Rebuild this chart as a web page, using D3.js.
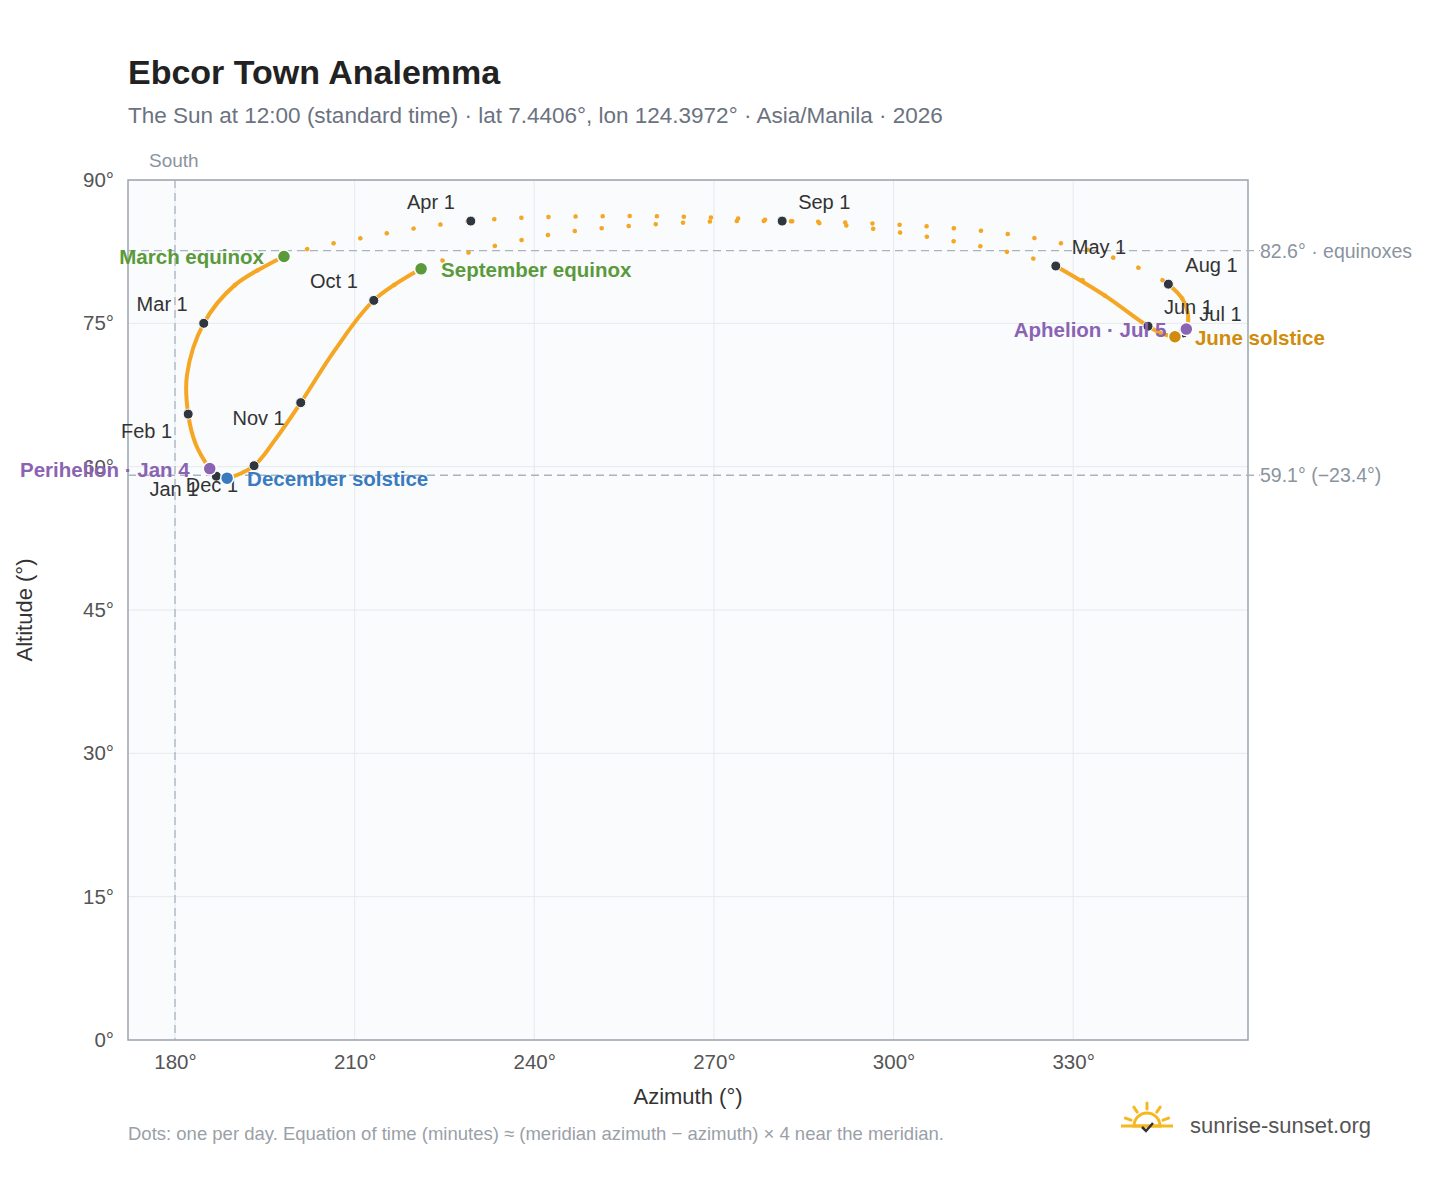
<!DOCTYPE html>
<html><head><meta charset="utf-8">
<script src="https://cdnjs.cloudflare.com/ajax/libs/d3/7.8.5/d3.min.js"></script>
<style>body{margin:0;background:#fff;font-family:"Liberation Sans",Arial,sans-serif}</style>
</head><body><div id="chart"></div>
<script>
// samples: date, azimuth, altitude
const dates = ["Jan 1","Jan 4","Jan 15","Feb 1","Feb 15","Mar 1","Mar 10","Mar 20","Mar 26","Apr 1","Apr 8","Apr 15","Apr 22","May 1","May 15","Jun 1","Jun 10","Jun 21","Jul 1","Jul 5","Jul 12","Jul 20","Aug 1","Aug 8","Aug 15","Aug 22","Sep 1","Sep 8","Sep 15","Sep 22","Oct 1","Oct 15","Nov 1","Nov 15","Dec 1","Dec 21","Dec 31"];
const azimuth = [186.9,185.8,183.5,182.2,182.0,184.8,190.0,198.2,212.6,229.4,250.2,272.7,297.8,327.1,335.3,342.5,345.0,347.0,348.4,348.9,349.2,348.2,345.9,338.7,327.8,312.8,281.4,261.0,241.0,221.1,213.2,206.7,201.0,196.7,193.2,188.7,187.1];
const altitude = [59.0,59.8,62.3,65.5,69.6,75.0,79.0,82.0,84.1,85.7,86.2,86.0,84.8,81.0,77.9,74.7,73.9,73.6,74.0,74.4,75.8,77.6,79.1,81.4,83.4,84.8,85.7,85.4,84.1,80.7,77.4,72.2,66.7,62.8,60.1,58.8,58.9];
const monthLabels = ["Jan 1","Feb 1","Mar 1","Apr 1","May 1","Jun 1","Jul 1","Aug 1","Sep 1","Oct 1","Nov 1","Dec 1"];
const events = [
  {name:"March equinox", date:"Mar 20", color:"#5a9a3a", side:"left"},
  {name:"September equinox", date:"Sep 22", color:"#5a9a3a", side:"right"},
  {name:"June solstice", date:"Jun 21", color:"#d08c0c", side:"right"},
  {name:"December solstice", date:"Dec 21", color:"#3a7bc0", side:"right"},
  {name:"Perihelion · Jan 4", date:"Jan 4", color:"#8b63b3", side:"left"},
  {name:"Aphelion · Jul 5", date:"Jul 5", color:"#8b63b3", side:"left"}
];
const xTicks = [180,210,240,270,300,330];
const yTicks = [0,15,30,45,60,75,90];

const W=1448,H=1188, L=128,R=1248,T=180,B=1040;
const svg=d3.select("#chart").append("svg").attr("width",W).attr("height",H);
const x=d3.scaleLinear().domain([172.15,359.2]).range([L,R]);
const y=d3.scaleLinear().domain([0,90]).range([B,T]);
const pts=dates.map((d,i)=>({date:d,az:azimuth[i],alt:altitude[i]}));
const byDate=d=>pts.find(p=>p.date===d);

svg.append("text").attr("x",128).attr("y",84).attr("font-size",34).attr("font-weight","bold").attr("fill","#222").text("Ebcor Town Analemma");
svg.append("text").attr("x",128).attr("y",123).attr("font-size",22.5).attr("fill","#6b7280").text("The Sun at 12:00 (standard time) · lat 7.4406°, lon 124.3972° · Asia/Manila · 2026");

svg.append("rect").attr("x",L).attr("y",T).attr("width",R-L).attr("height",B-T).attr("fill","#f9fbfd");
const g=svg.append("g");
g.selectAll(".gx").data(xTicks).join("line").attr("x1",d=>x(d)).attr("x2",d=>x(d)).attr("y1",T).attr("y2",B).attr("stroke","#e6eaee");
g.selectAll(".gy").data(yTicks).join("line").attr("y1",d=>y(d)).attr("y2",d=>y(d)).attr("x1",L).attr("x2",R).attr("stroke","#e6eaee");
svg.append("rect").attr("x",L).attr("y",T).attr("width",R-L).attr("height",B-T).attr("fill","none").attr("stroke","#9aa5b1").attr("stroke-width",1.5);

const xa=svg.append("g").attr("transform",`translate(0,${B})`).call(d3.axisBottom(x).tickValues(xTicks).tickFormat(d=>d+"°").tickSize(0).tickPadding(14));
const ya=svg.append("g").attr("transform",`translate(${L},0)`).call(d3.axisLeft(y).tickValues(yTicks).tickFormat(d=>d+"°").tickSize(0).tickPadding(14));
[xa,ya].forEach(a=>{a.select(".domain").remove();a.selectAll("text").attr("font-size",20.5).attr("fill","#555").attr("font-family","Liberation Sans, Arial");});
svg.append("text").attr("x",(L+R)/2).attr("y",1104).attr("text-anchor","middle").attr("font-size",22).attr("fill","#333").text("Azimuth (°)");
svg.append("text").attr("transform","translate(32,610) rotate(-90)").attr("text-anchor","middle").attr("font-size",22).attr("fill","#333").text("Altitude (°)");

// reference lines
svg.append("line").attr("x1",x(180)).attr("x2",x(180)).attr("y1",T).attr("y2",B).attr("stroke","#a8b4c0").attr("stroke-dasharray","8 5").attr("stroke-width",1.3);
svg.append("text").attr("x",x(180)-26).attr("y",167).attr("font-size",19).attr("fill","#8a94a0").text("South");
[[82.6,"82.6° · equinoxes"],[59.1,"59.1° (−23.4°)"]].forEach(([v,t])=>{
  svg.append("line").attr("x1",L).attr("x2",R+12).attr("y1",y(v)).attr("y2",y(v)).attr("stroke","#a8b4c0").attr("stroke-dasharray","8 5").attr("stroke-width",1.3);
  svg.append("text").attr("x",R+12).attr("y",y(v)+7).attr("font-size",19.5).attr("fill","#8a94a0").text(t);
});

// analemma
const line=d3.line().x(p=>x(p.az)).y(p=>y(p.alt)).curve(d3.curveCatmullRom);
const idx=d=>dates.indexOf(d);
const seg=(a,b)=>pts.slice(idx(a),idx(b)+1);
const solid=[seg("Jan 1","Mar 20"),seg("May 1","Aug 1"),seg("Sep 22","Dec 31").concat([pts[0]])];
const dotted=[seg("Mar 10","May 15"),seg("Jul 20","Oct 1")];
solid.forEach(s=>svg.append("path").attr("d",line(s)).attr("fill","none").attr("stroke","#f5a623").attr("stroke-width",4).attr("stroke-linecap","round"));
dotted.forEach(s=>svg.append("path").attr("d",line(s)).attr("fill","none").attr("stroke","#f5a623").attr("stroke-width",4.5).attr("stroke-linecap","round").attr("stroke-dasharray","0.1 27"));

// month dots
monthLabels.forEach(m=>{const p=byDate(m);
  svg.append("circle").attr("cx",x(p.az)).attr("cy",y(p.alt)).attr("r",5).attr("fill","#2f3640").attr("stroke","#fff").attr("stroke-width",1);});
const off={"Jan 1":[-18,20,"end"],"Feb 1":[-16,24,"end"],"Mar 1":[-16,-12,"end"],"Apr 1":[-16,-12,"end"],"May 1":[16,-12,"start"],"Jun 1":[16,-12,"start"],"Jul 1":[16,-12,"start"],"Aug 1":[17,-12,"start"],"Sep 1":[16,-12,"start"],"Oct 1":[-16,-12,"end"],"Nov 1":[-16,22,"end"],"Dec 1":[-16,26,"end"]};
monthLabels.forEach(m=>{const p=byDate(m),o=off[m];
  svg.append("text").attr("x",x(p.az)+o[0]).attr("y",y(p.alt)+o[1]).attr("text-anchor",o[2]).attr("font-size",20).attr("fill","#333").text(m);});

events.forEach(e=>{const p=byDate(e.date),cx=x(p.az),cy=y(p.alt);
  svg.append("circle").attr("cx",cx).attr("cy",cy).attr("r",6.5).attr("fill",e.color).attr("stroke","#fff").attr("stroke-width",1.5);
  svg.append("text").attr("x",cx+(e.side==="left"?-20:20)).attr("y",cy+8).attr("text-anchor",e.side==="left"?"end":"start")
    .attr("font-size",20.5).attr("font-weight","bold").attr("fill",e.color).text(e.name);});

svg.append("text").attr("x",128).attr("y",1140).attr("font-size",18.5).attr("fill","#9aa0a8").text("Dots: one per day. Equation of time (minutes) ≈ (meridian azimuth − azimuth) × 4 near the meridian.");
// logo
const lg=svg.append("g").attr("transform","translate(1147,1126)");
lg.append("path").attr("d",d3.arc()({innerRadius:0,outerRadius:13,startAngle:-Math.PI/2,endAngle:Math.PI/2})).attr("fill","none").attr("stroke","#f5b820").attr("stroke-width",3);
[-70,-35,0,35,70].forEach(a=>{const r=a*Math.PI/180;lg.append("line").attr("x1",Math.sin(r)*17).attr("y1",-Math.cos(r)*17).attr("x2",Math.sin(r)*23).attr("y2",-Math.cos(r)*23).attr("stroke","#f5b820").attr("stroke-width",3).attr("stroke-linecap","round");});
lg.append("line").attr("x1",-26).attr("x2",26).attr("y1",0).attr("y2",0).attr("stroke","#f5b820").attr("stroke-width",3);
lg.append("path").attr("d","M-5,1 L-1,5 L6,-3").attr("fill","none").attr("stroke","#333").attr("stroke-width",2.5);
svg.append("text").attr("x",1190).attr("y",1133).attr("font-size",22).attr("fill","#555").text("sunrise-sunset.org");
</script></body></html>
